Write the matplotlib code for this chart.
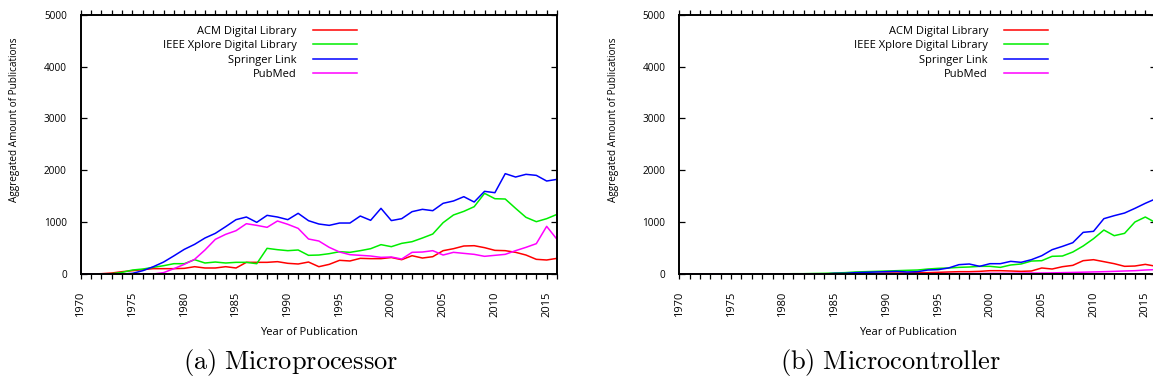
import matplotlib
matplotlib.use('Agg')
import matplotlib.pyplot as plt
from matplotlib.ticker import MultipleLocator

plt.rcParams['font.family'] = ['Open Sans', 'DejaVu Sans']
plt.rcParams['mathtext.fontset'] = 'cm'

years = list(range(1970, 2017))
labels = ['ACM Digital Library', 'IEEE Xplore Digital Library', 'Springer Link', 'PubMed']
colors = ['#ff0000', '#00ee00', '#0000ff', '#ff00ff']

# (a) Microprocessor
acm_mp = [0, 0, 6, 19, 45, 64, 84, 103, 103, 103, 109, 141, 116, 116, 141, 116,
          225, 225, 225, 238, 206, 193, 231, 141, 186, 264, 251, 302, 296, 296,
          318, 276, 353, 308, 334, 450, 488, 540, 546, 508, 456, 450, 418, 366,
          283, 270, 302]
ieee_mp = [0, 0, 0, 6, 32, 77, 96, 128, 160, 199, 199, 276, 212, 231, 212, 225,
           225, 199, 495, 469, 450, 463, 360, 366, 392, 430, 418, 450, 488, 566,
           527, 591, 623, 694, 771, 990, 1138, 1208, 1298, 1555, 1452, 1446,
           1266, 1093, 1009, 1067, 1150]
springer_mp = [0, 0, 0, 0, 0, 13, 64, 140, 230, 350, 475, 572, 694, 784, 913,
               1048, 1099, 996, 1131, 1099, 1048, 1170, 1028, 964, 938, 983, 983,
               1118, 1035, 1266, 1030, 1067, 1202, 1247, 1221, 1363, 1408, 1491,
               1388, 1594, 1568, 1935, 1870, 1922, 1902, 1793, 1825]
pubmed_mp = [0, 0, 0, 0, 0, 0, 0, 0, 26, 103, 186, 283, 463, 668, 765, 835, 970,
             938, 900, 1022, 958, 880, 675, 636, 514, 424, 373, 360, 347, 321,
             328, 289, 418, 424, 450, 366, 418, 398, 379, 341, 360, 379, 450, 514,
             585, 919, 668]

# (b) Microcontroller
acm_mc = [0, 0, 0, 0, 0, 0, 0, 0, 0, 0, 0, 0, 0, 0, 0, 6, 6, 10, 13, 13, 19, 19,
          19, 26, 26, 32, 39, 45, 45, 51, 64, 64, 58, 51, 58, 116, 96, 141, 167,
          257, 276, 238, 199, 148, 154, 186, 150]
ieee_mc = [0, 0, 0, 0, 0, 0, 0, 0, 0, 0, 3, 6, 6, 10, 13, 19, 26, 39, 45, 51, 58,
           64, 71, 77, 96, 109, 116, 128, 135, 148, 148, 128, 174, 193, 250, 257,
           341, 347, 424, 540, 681, 848, 739, 784, 1003, 1099, 990]
springer_mc = [0, 0, 0, 0, 0, 0, 0, 0, 0, 0, 0, 0, 0, 0, 0, 13, 13, 26, 32, 39,
               45, 51, 39, 45, 77, 84, 116, 180, 193, 148, 199, 199, 244, 225, 276,
               353, 469, 533, 604, 803, 823, 1067, 1125, 1176, 1266, 1363, 1450]
pubmed_mc = [0, 0, 0, 0, 0, 0, 0, 0, 0, 0, 0, 0, 0, 0, 0, 0, 0, 0, 0, 0, 3, 3, 5,
             5, 6, 6, 8, 8, 10, 10, 13, 13, 13, 16, 19, 19, 22, 26, 30, 35, 40, 45,
             51, 58, 64, 77, 85]

fig = plt.figure(figsize=(11.53, 3.85), dpi=100)
ax1 = fig.add_axes([0.070, 0.2883, 0.4131, 0.6735])
ax2 = fig.add_axes([0.5892, 0.2883, 0.4131, 0.6735])


def draw(ax, series, legend_x):
    for vals, lab, col in zip(series, labels, colors):
        ax.plot(years, vals, color=col, lw=1.1, label=lab)
    ax.set_xlim(1970, 2016)
    ax.set_ylim(0, 5000)
    ax.set_yticks(range(0, 5001, 1000))
    ax.xaxis.set_major_locator(MultipleLocator(5))
    ax.xaxis.set_minor_locator(MultipleLocator(1))
    ax.tick_params(axis='x', which='both', direction='out', top=True,
                   length=3.6, width=0.9, labelsize=8, pad=9, labelrotation=90)
    ax.tick_params(axis='y', direction='in', right=True, length=4.3,
                   width=0.9, labelsize=7.2, pad=10)
    for s in ax.spines.values():
        s.set_linewidth(1.4)
    ax.set_xlabel('Year of Publication', fontsize=8)
    ax.xaxis.set_label_coords(0.479, -0.205)
    ax.set_ylabel('Aggregated Amount of Publications', fontsize=7.2)
    ax.yaxis.set_label_coords(-0.127, 0.596)
    ax.legend(loc='upper right', bbox_to_anchor=(legend_x, 0.957),
              frameon=False, markerfirst=False, fontsize=8, borderpad=0,
              borderaxespad=0, handlelength=4.0, handletextpad=1.4,
              labelspacing=0.3)


draw(ax1, [acm_mp, ieee_mp, springer_mp, pubmed_mp], 0.580)
draw(ax2, [acm_mc, ieee_mc, springer_mc, pubmed_mc], 0.774)

fig.text(291 / 1153, 1 - 362 / 385, r'$\mathrm{(a)\ Microprocessor}$',
         ha='center', va='center', fontsize=19)
fig.text(890 / 1153, 1 - 362 / 385, r'$\mathrm{(b)\ Microcontroller}$',
         ha='center', va='center', fontsize=19)

fig.savefig('out.png', dpi=100)
